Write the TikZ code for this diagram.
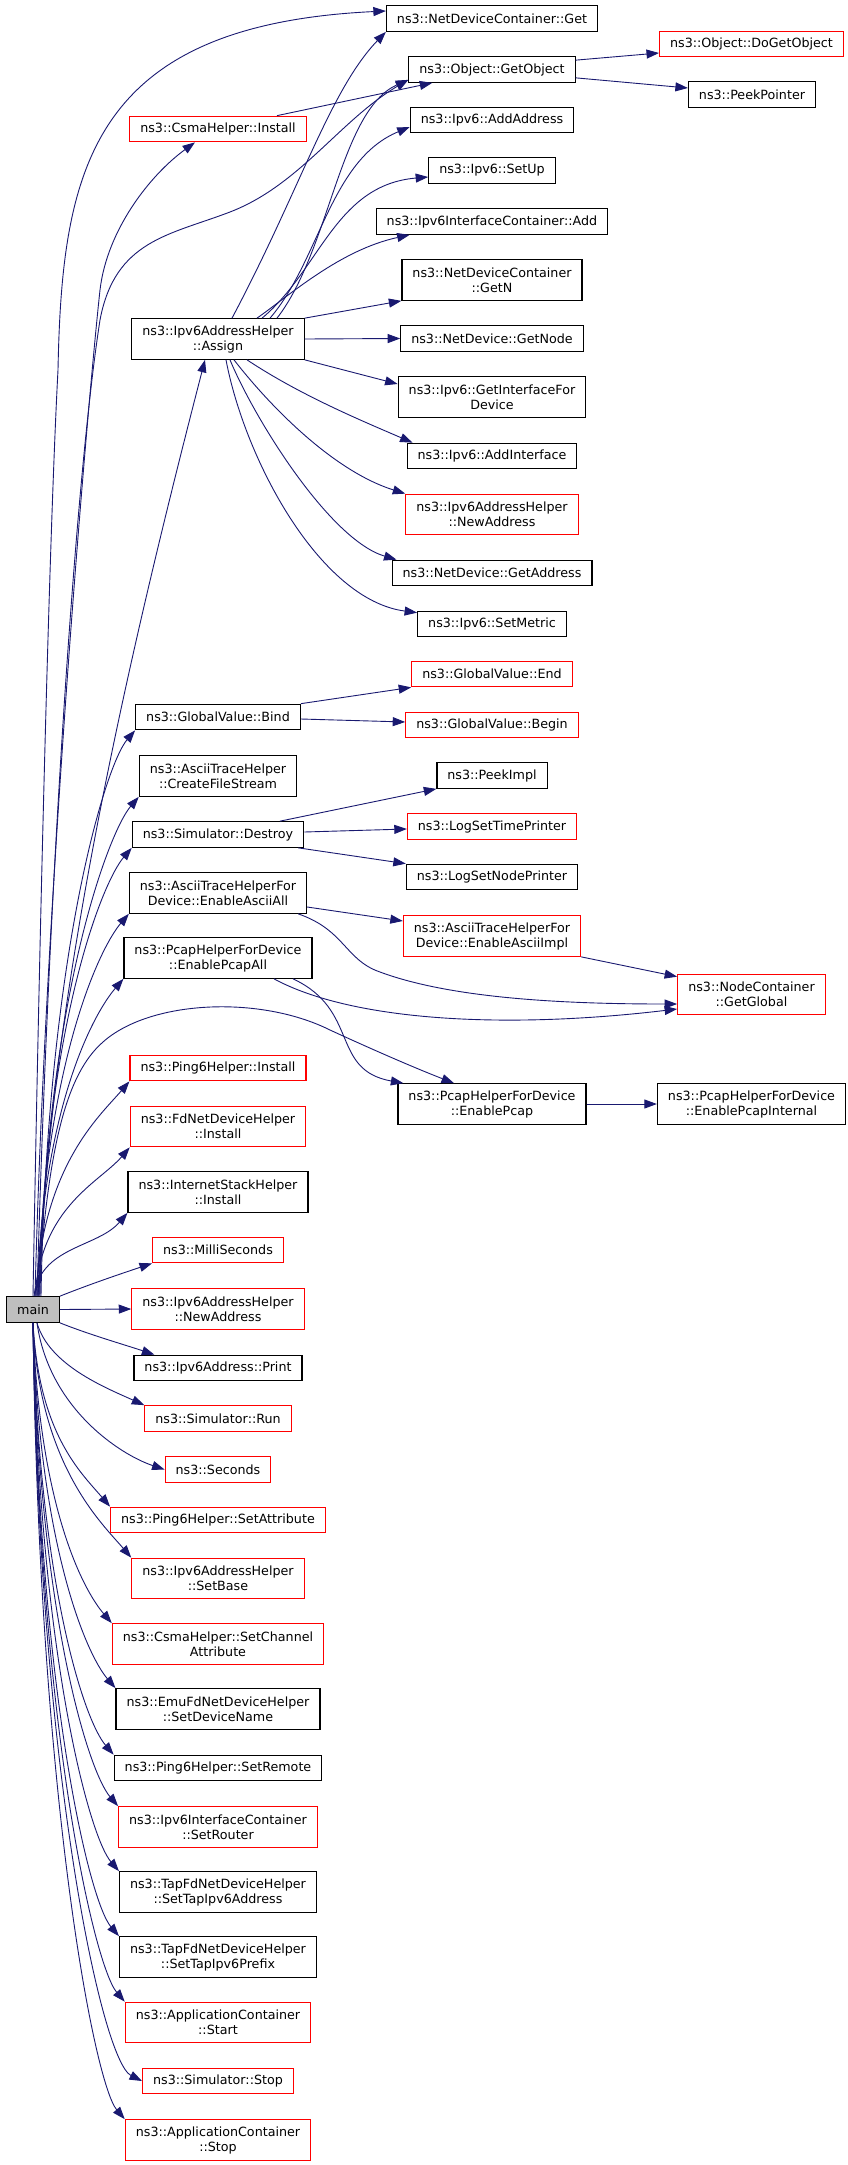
\documentclass[tikz,border=0pt]{standalone}
\usepackage{fontspec}
\setmainfont{DejaVu Sans}
\usetikzlibrary{arrows.meta}
\definecolor{edgeblue}{HTML}{191970}
\definecolor{mainfill}{HTML}{BFBFBF}

\tikzset{
  fn/.style={draw=black, fill=white, line width=1.2pt, align=center,
    inner xsep=10.5pt, inner ysep=2pt, minimum height=25.5pt,
    font=\fontsize{12.7}{15}\selectfont},
  fntwo/.style={fn, minimum height=40.5pt},
  redbox/.style={draw=red},
  call/.style={draw=edgeblue, line width=0.9pt, -{Triangle[length=12.5pt,width=9pt]}}
}

\begin{document}
\begin{tikzpicture}[x=1pt,y=-1pt]
\useasboundingbox (0,0) rectangle (848,2165);

% called functions, second and third column
\node[fn] (ndcget) at (492,18.5) {ns3::NetDeviceContainer::Get};
\node[fn,redbox] (dogetobj) at (751.5,44) {ns3::Object::DoGetObject};
\node[fn] (getobj) at (492,69.5) {ns3::Object::GetObject};
\node[fn] (peekptr) at (752,94.5) {ns3::PeekPointer};
\node[fn] (addaddr) at (492,120) {ns3::Ipv6::AddAddress};
\node[fn] (setup) at (492,170.5) {ns3::Ipv6::SetUp};
\node[fn] (ifcadd) at (492,221.5) {ns3::Ipv6InterfaceContainer::Add};
\node[fntwo] (getn) at (492,280) {ns3::NetDeviceContainer\\::GetN};
\node[fn] (getnode) at (492,338.5) {ns3::NetDevice::GetNode};
\node[fntwo] (getifdev) at (492,397) {ns3::Ipv6::GetInterfaceFor\\Device};
\node[fn] (addif) at (492,456) {ns3::Ipv6::AddInterface};
\node[fntwo,redbox] (newaddrb) at (492,514.5) {ns3::Ipv6AddressHelper\\::NewAddress};
\node[fn] (getaddr) at (492,573) {ns3::NetDevice::GetAddress};
\node[fn] (setmetric) at (492,624) {ns3::Ipv6::SetMetric};
\node[fn,redbox] (gvend) at (492,674) {ns3::GlobalValue::End};
\node[fn,redbox] (gvbegin) at (492,725) {ns3::GlobalValue::Begin};
\node[fn] (peekimpl) at (492,775.5) {ns3::PeekImpl};
\node[fn,redbox] (logtime) at (492,826.5) {ns3::LogSetTimePrinter};
\node[fn] (lognode) at (492,877) {ns3::LogSetNodePrinter};
\node[fntwo,redbox] (asciiimpl) at (492,936) {ns3::AsciiTraceHelperFor\\Device::EnableAsciiImpl};
\node[fntwo,redbox] (getglobal) at (751.5,994.5) {ns3::NodeContainer\\::GetGlobal};
\node[fntwo] (enpcap) at (492,1104) {ns3::PcapHelperForDevice\\::EnablePcap};
\node[fntwo] (pcapint) at (751.5,1104) {ns3::PcapHelperForDevice\\::EnablePcapInternal};

% first column
\node[fn,redbox] (csmainst) at (218,129) {ns3::CsmaHelper::Install};
\node[fntwo] (assign) at (218,339) {ns3::Ipv6AddressHelper\\::Assign};
\node[fn] (gvbind) at (218,717) {ns3::GlobalValue::Bind};
\node[fntwo] (createfs) at (218,776) {ns3::AsciiTraceHelper\\::CreateFileStream};
\node[fn] (destroy) at (218,834.5) {ns3::Simulator::Destroy};
\node[fntwo] (asciiall) at (218,893) {ns3::AsciiTraceHelperFor\\Device::EnableAsciiAll};
\node[fntwo] (pcapall) at (218,958) {ns3::PcapHelperForDevice\\::EnablePcapAll};
\node[fn,redbox] (pinginst) at (218,1068) {ns3::Ping6Helper::Install};
\node[fntwo,redbox] (fdinst) at (218,1126.5) {ns3::FdNetDeviceHelper\\::Install};
\node[fntwo] (inetinst) at (218,1192) {ns3::InternetStackHelper\\::Install};
\node[fn,redbox] (millis) at (218,1250) {ns3::MilliSeconds};
\node[fntwo,redbox] (newaddra) at (218,1309) {ns3::Ipv6AddressHelper\\::NewAddress};
\node[fn] (print) at (218,1368) {ns3::Ipv6Address::Print};
\node[fn,redbox] (simrun) at (218,1418.5) {ns3::Simulator::Run};
\node[fn,redbox] (seconds) at (218,1469.5) {ns3::Seconds};
\node[fn,redbox] (setattr) at (218,1520) {ns3::Ping6Helper::SetAttribute};
\node[fntwo,redbox] (setbase) at (218,1578.5) {ns3::Ipv6AddressHelper\\::SetBase};
\node[fntwo,redbox] (setchan) at (218,1644) {ns3::CsmaHelper::SetChannel\\Attribute};
\node[fntwo] (setdev) at (218,1709) {ns3::EmuFdNetDeviceHelper\\::SetDeviceName};
\node[fn] (setremote) at (218,1768) {ns3::Ping6Helper::SetRemote};
\node[fntwo,redbox] (setrouter) at (218,1827) {ns3::Ipv6InterfaceContainer\\::SetRouter};
\node[fntwo] (tapaddr) at (218,1892) {ns3::TapFdNetDeviceHelper\\::SetTapIpv6Address};
\node[fntwo] (tapprefix) at (218,1957) {ns3::TapFdNetDeviceHelper\\::SetTapIpv6Prefix};
\node[fntwo,redbox] (appstart) at (218,2022.5) {ns3::ApplicationContainer\\::Start};
\node[fn,redbox] (simstop) at (218,2081) {ns3::Simulator::Stop};
\node[fntwo,redbox] (appstop) at (218,2140) {ns3::ApplicationContainer\\::Stop};

% main
\node[fn,fill=mainfill] (main) at (33,1309.5) {main};

% main: long calls upwards
\draw[call] (main.north) .. controls (40,900) and (50,520) .. (58,370) .. controls (62,170) and (90,25) .. ([yshift=7.5]ndcget.west);
\draw[call] ([xshift=2]main.north) .. controls (45,900) and (88,400) .. (100,290) .. controls (107,230) and (150,175) .. ([xshift=-23]csmainst.south);
\draw[call] ([xshift=4]main.north) .. controls (48,900) and (75,480) .. (100,320) .. controls (115,240) and (170,235) .. (230,212) .. controls (300,185) and (340,120) .. ([yshift=3]getobj.south west);
\draw[call] ([xshift=6]main.north) .. controls (48,1000) and (130,650) .. ([xshift=-13]assign.south);
\draw[call] ([xshift=5]main.north) .. controls (48,1150) and (65,1075) .. (103,1042) .. controls (150,1000) and (260,995) .. (330,1030) .. controls (380,1053) and (420,1070) .. ([xshift=-38]enpcap.north);

% main: first column above
\foreach \n/\h/\s in {gvbind/340/8, createfs/300/7, destroy/270/6, asciiall/230/5, pcapall/190/4, pinginst/130/3, fdinst/90/2, inetinst/50/1}
  \draw[call] ([xshift=\s pt]main.north) .. controls +(6,-\h) and +(-30,35) .. (\n.south west);
\draw[call] (main.north east) .. controls +(30,-12) and +(-30,10) .. (millis.south west);
\draw[call] (main.east) -- (newaddra.west);

% main: first column below
\draw[call] (main.south east) .. controls +(30,12) and +(-30,-10) .. ([xshift=21]print.north west);
\draw[call] ([xshift=4]main.south) .. controls +(12,42) and +(-40,-18) .. (simrun.north west);
\draw[call] ([xshift=4]main.south) .. controls +(12,85) and +(-45,-15) .. (seconds.west);
\foreach \n/\h in {setattr/111, setbase/142, setchan/181, setdev/220, setremote/260, setrouter/291, tapaddr/330, tapprefix/369, appstart/408, appstop/479}
  \draw[call] (main.south) .. controls +(6,\h) and +(-30,-35) .. (\n.north west);
\draw[call] (main.south) .. controls +(6,452) and +(-40,-20) .. (simstop.west);

% Assign
\draw[call] ([xshift=14]assign.north) .. controls (300,190) and (330,90) .. (ndcget.south west);
\draw[call] ([xshift=59]assign.north) .. controls (330,250) and (340,110) .. ([yshift=3]getobj.south west);
\draw[call] ([xshift=52]assign.north) .. controls (320,260) and (330,160) .. ([yshift=-7]addaddr.west);
\draw[call] ([xshift=44]assign.north) .. controls (320,270) and (335,185) .. ([yshift=-6.5]setup.west);
\draw[call] ([xshift=39]assign.north) .. controls (290,295) and (340,250) .. ([xshift=34]ifcadd.south west);
\draw[call] (assign.north east) -- (getn.south west);
\draw[call] (assign.east) -- (getnode.west);
\draw[call] (assign.south east) -- ([yshift=13]getifdev.west);
\draw[call] ([xshift=29]assign.south) .. controls (300,395) and (360,420) .. ([xshift=6]addif.north west);
\draw[call] ([xshift=16]assign.south) .. controls (265,400) and (330,470) .. (newaddrb.north west);
\draw[call] ([xshift=12]assign.south) .. controls (255,420) and (330,540) .. ([xshift=5]getaddr.north west);
\draw[call] ([xshift=8]assign.south) .. controls (245,460) and (320,600) .. ([yshift=-2]setmetric.north west);

% the other callers
\draw[call] ([xshift=59]csmainst.north) -- ([xshift=24]getobj.south west);
\draw[call] ([yshift=-4]getobj.north east) -- ([yshift=-9]dogetobj.west);
\draw[call] ([yshift=5]getobj.south east) -- ([yshift=6.5]peekptr.west);
\draw[call] (gvbind.north east) -- (gvend.south west);
\draw[call] ([yshift=-2]gvbind.east) -- ([yshift=3]gvbegin.west);
\draw[call] ([xshift=62]destroy.north) -- (peekimpl.south west);
\draw[call] ([yshift=2.5]destroy.east) -- ([yshift=-2.5]logtime.west);
\draw[call] ([xshift=-6]destroy.south east) -- (lognode.north west);
\draw[call] ([yshift=-14]asciiall.east) -- ([yshift=15]asciiimpl.west);
\draw[call] (asciiimpl.south east) -- ([yshift=-3]getglobal.north west);
\draw[call] ([xshift=-9]asciiall.south east) .. controls (345,930) and (345,960) .. (380,972) .. controls (450,998) and (560,1004) .. ([yshift=-9.5]getglobal.west);
\draw[call] ([xshift=56]pcapall.south) .. controls (350,1020) and (500,1030) .. ([yshift=-14.5]getglobal.west);
\draw[call] ([xshift=75]pcapall.south) .. controls (360,1010) and (330,1070) .. ([xshift=6]enpcap.north west);
\draw[call] (enpcap.east) -- (pcapint.west);

\end{tikzpicture}
\end{document}
